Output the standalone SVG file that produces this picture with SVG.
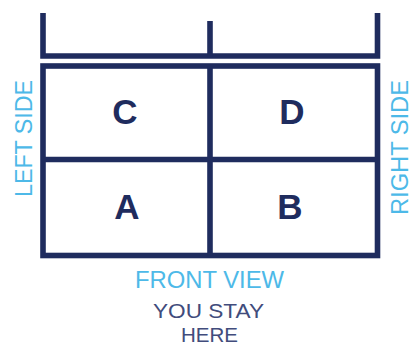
<svg xmlns="http://www.w3.org/2000/svg" width="411" height="345" viewBox="0 0 411 345">
<style>
.ln{fill:none;stroke:#1f2c5e;stroke-width:5.6;stroke-linecap:butt;stroke-linejoin:miter}
.big{font-family:"Liberation Sans",Arial,sans-serif;font-weight:bold;font-size:35px;fill:#1f2c5e;text-anchor:middle}
.side{font-family:"Liberation Sans",Arial,sans-serif;font-size:23px;fill:#4db9e8;text-anchor:middle}
.dark{font-family:"Liberation Sans",Arial,sans-serif;font-size:21px;fill:#414c7c;text-anchor:middle}
</style>
<rect width="411" height="345" fill="#fff"/>
<g id="connectors">
<path class="ln" d="M43,13 V56 H377.5 V13"/>
<path class="ln" d="M210,21 V58"/>
</g>
<g id="grid">
<rect class="ln" x="43" y="66" width="334.5" height="189.5"/>
<path class="ln" d="M210,66 V255.5 M43,159.5 H377.5"/>
</g>
<g id="C"><text class="big" x="125" y="124">C</text></g>
<g id="D"><text class="big" x="292" y="124">D</text></g>
<g id="A"><text class="big" x="127" y="219">A</text></g>
<g id="B"><text class="big" x="290" y="219">B</text></g>
<g id="left-side"><text class="side" transform="translate(31.5,138.5) rotate(-90)" textLength="117" lengthAdjust="spacingAndGlyphs">LEFT SIDE</text></g>
<g id="right-side"><text class="side" transform="translate(407.5,147.5) rotate(-90)" textLength="135" lengthAdjust="spacingAndGlyphs">RIGHT SIDE</text></g>
<g id="front-view"><text class="side" x="209.5" y="288" textLength="149" lengthAdjust="spacingAndGlyphs">FRONT VIEW</text></g>
<g id="you-stay"><text class="dark" x="208.5" y="317.5" textLength="111" lengthAdjust="spacingAndGlyphs">YOU STAY</text>
<text class="dark" x="209.5" y="341.5" textLength="57" lengthAdjust="spacingAndGlyphs">HERE</text></g>
</svg>
